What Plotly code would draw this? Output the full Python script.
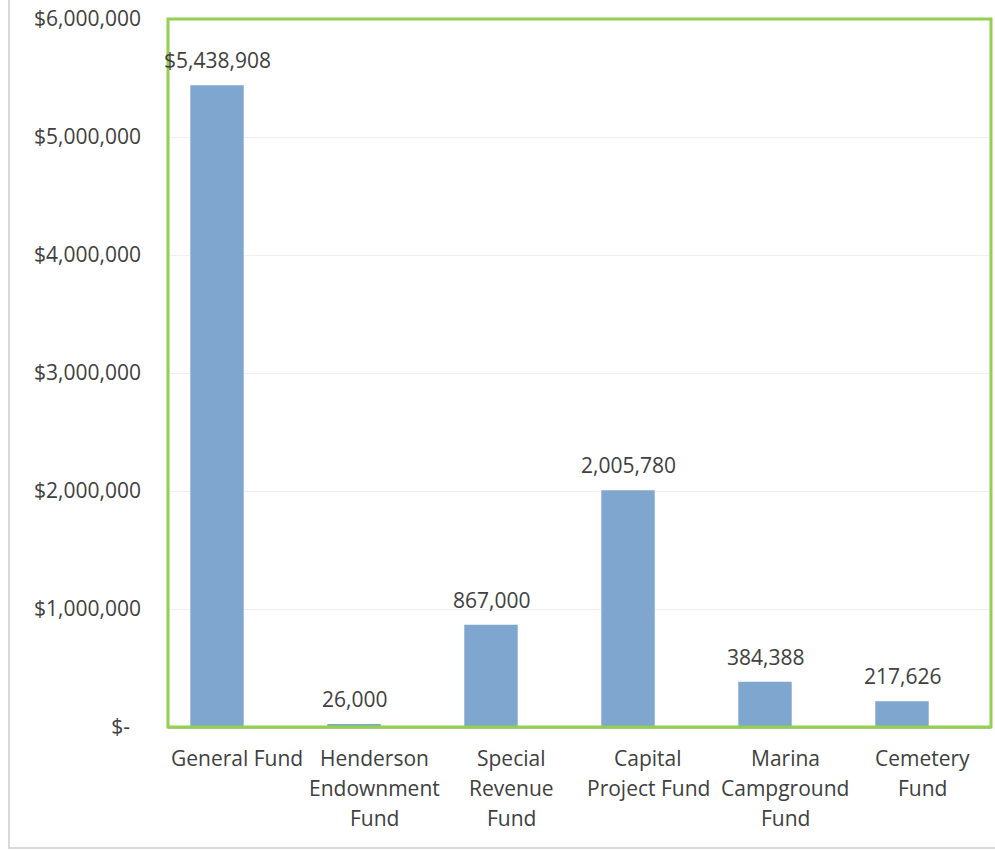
import plotly.graph_objects as go

# Fund names (category axis) and budget amounts
funds = [
    "General Fund",
    "Henderson<br>Endownment<br>Fund",
    "Special<br>Revenue<br>Fund",
    "Capital<br>Project Fund",
    "Marina<br>Campground<br>Fund",
    "Cemetery<br>Fund",
]
amounts = [5438908, 26000, 867000, 2005780, 384388, 217626]
value_labels = ["$5,438,908", "26,000", "867,000", "2,005,780", "384,388", "217,626"]

y_tick_vals = [0, 1000000, 2000000, 3000000, 4000000, 5000000, 6000000]
y_tick_text = ["$-\u00a0\u00a0", "$1,000,000", "$2,000,000", "$3,000,000",
               "$4,000,000", "$5,000,000", "$6,000,000"]

W, H = 995, 851
L, R, T, B = 168, 4, 19, 124
FONT = "Open Sans, Noto Sans, sans-serif"
FS = 21
TXT = "#404040"

cats = list(range(len(funds)))
fig = go.Figure(
    go.Bar(
        x=cats,
        y=amounts,
        marker=dict(color="#7FA6CF", line=dict(width=0)),
        width=0.39,
        hoverinfo="skip",
    )
)

# value labels sitting above each bar
for i, (v, lab) in enumerate(zip(amounts, value_labels)):
    fig.add_annotation(
        x=i, y=v, text=lab, showarrow=False,
        xanchor="center", yanchor="bottom", yshift=9,
        font=dict(family=FONT, size=FS, color=TXT),
    )

# category labels, one line at a time for a looser line spacing
for i, name in enumerate(funds):
    for j, line in enumerate(name.split("<br>")):
        fig.add_annotation(
            x=i, y=0, text=line, showarrow=False,
            xanchor="center", yanchor="middle",
            xshift=20, yshift=-(31 + 30 * j),
            font=dict(family=FONT, size=FS, color=TXT),
        )

pw = W - L - R
ph = H - T - B
slot = 137.0  # pixels per category
x_start = -(217 - L) / slot
fig.update_layout(
    width=W,
    height=H,
    margin=dict(l=L, r=R, t=T, b=B),
    paper_bgcolor="white",
    plot_bgcolor="white",
    showlegend=False,
    shapes=[
        # plot-area frame
        dict(type="rect", xref="paper", yref="paper", x0=0, x1=1, y0=0, y1=1,
             line=dict(color="#92D050", width=3), layer="above"),
        # outer chart border
        dict(type="rect", xref="paper", yref="paper",
             x0=(9 - L) / pw, x1=(W + 20 - L) / pw,
             y0=-(848 - T - ph) / ph, y1=(ph + T + 20) / ph,
             line=dict(color="#D9D9D9", width=2), layer="below"),
    ],
)

fig.update_xaxes(
    range=[x_start, x_start + pw / slot],
    showticklabels=False,
    showline=True, linecolor="#BFBFBF", linewidth=2,
    ticks="", showgrid=False, zeroline=False,
)
fig.update_yaxes(
    range=[0, 6000000],
    tickvals=y_tick_vals,
    ticktext=y_tick_text,
    tickfont=dict(family=FONT, size=FS, color=TXT),
    showgrid=True, gridcolor="#EFEFEF", gridwidth=1,
    zeroline=False, showline=False, ticks="",
    ticklabelstandoff=26,
)

fig.write_html("out.html")
